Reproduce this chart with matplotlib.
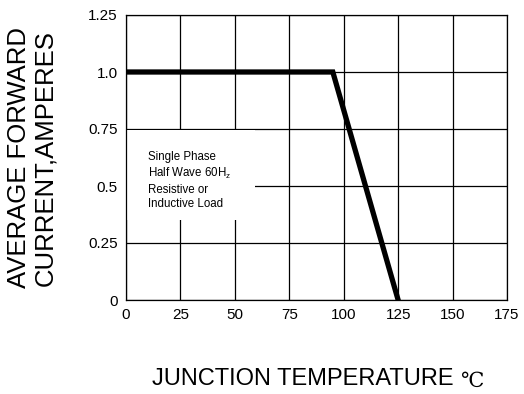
import matplotlib
matplotlib.use("Agg")
import matplotlib.pyplot as plt
from matplotlib.patches import Rectangle

# Data
temps = [0, 95, 125]
current = [1.0, 1.0, 0.0]
xticks = [0, 25, 50, 75, 100, 125, 150, 175]
yticks = [0, 0.25, 0.5, 0.75, 1.0, 1.25]
ytick_labels = ["0", "0.25", "0.5", "0.75", "1.0", "1.25"]
note = "Single Phase\nHalf Wave 60H$_\\mathregular{z}$\nResistive or\nInductive Load"

plt.rcParams['font.family'] = ['Liberation Sans', 'DejaVu Sans']

fig = plt.figure(figsize=(5.24, 3.94), dpi=100)
ax = fig.add_axes([126/524, 1 - 300/394, (507-126)/524, (300-15)/394])

ax.set_xlim(0, 175)
ax.set_ylim(0, 1.25)
ax.set_xticks(xticks)
ax.set_yticks(yticks)
ax.set_yticklabels(ytick_labels)
ax.tick_params(length=0, labelsize=11)
ax.tick_params(axis='x', pad=6)
ax.tick_params(axis='y', pad=6)
ax.grid(True, color='black', linewidth=0.9)
ax.set_axisbelow(True)
for s in ax.spines.values():
    s.set_color('black')
    s.set_linewidth(0.9)

# white note box covering grid
ax.add_patch(Rectangle((0.4, 0.35), 58.9, 0.395, facecolor='white', edgecolor='none', zorder=1.5))
ax.text(10, 0.655, note, fontsize=8.3, va='top', ha='left', linespacing=1.3, zorder=3)

ax.plot(temps, current, color='black', linewidth=3.8, solid_joinstyle='miter', zorder=4)

fig.text(32/524, (394 - 158) / 394, "AVERAGE FORWARD\nCURRENT,AMPERES", rotation=90,
         fontsize=18.5, ha='center', va='center', linespacing=1.15)
fig.text(152/524, 1 - 385/394, "JUNCTION TEMPERATURE", fontsize=17, ha='left', va='baseline')
fig.text(460/524, 1 - 387/394, "\u2103", fontsize=15, family=['DejaVu Serif'], ha='left', va='baseline')

fig.savefig("out.png", dpi=100)
